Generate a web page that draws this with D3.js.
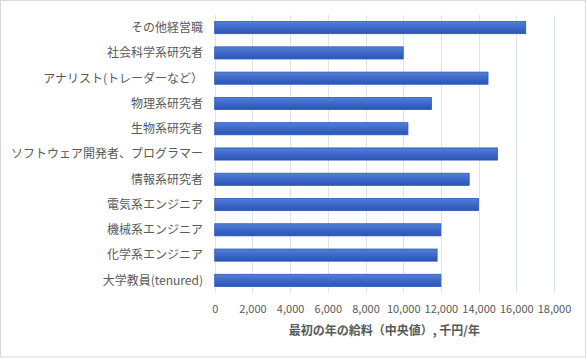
<!DOCTYPE html>
<html><head><meta charset="utf-8">
<script src="https://cdn.jsdelivr.net/npm/d3@7"></script>
<style>
html,body{margin:0;padding:0;background:#fff;}
svg{display:block;}
text{font-family:"Noto Sans CJK JP","Noto Sans",sans-serif;}
</style></head>
<body><svg id="c" width="586" height="358"></svg>
<script>
const categories = ["その他経営職","社会科学系研究者","アナリスト(トレーダーなど）","物理系研究者","生物系研究者","ソフトウェア開発者、プログラマー","情報系研究者","電気系エンジニア","機械系エンジニア","化学系エンジニア","大学教員(tenured)"];
const values = [16500,10000,14500,11500,10250,15000,13500,14000,12000,11800,12000];
const tickValues = [0,2000,4000,6000,8000,10000,12000,14000,16000,18000];
const xTitle = "最初の年の給料（中央値）, 千円/年";

(function(){
const svg = d3.select("#c");
svg.append("rect").attr("x",0.5).attr("y",0.5).attr("width",585).attr("height",356.5)
  .attr("fill","#fff").attr("stroke","#d9d9d9");

const defs = svg.append("defs");
const g = defs.append("linearGradient").attr("id","bg").attr("x1",0).attr("y1",0).attr("x2",0).attr("y2",1);
g.append("stop").attr("offset","0%").attr("stop-color","#5281d6");
g.append("stop").attr("offset","50%").attr("stop-color","#3d68c8");
g.append("stop").attr("offset","100%").attr("stop-color","#2a55b6");

const pL = 214.7, pR = 554, pT = 15, pB = 293;
const x = d3.scaleLinear().domain([0,18000]).range([pL,pR]);
const y = d3.scaleBand().domain(categories).range([pT,pB]).paddingInner(0.52).paddingOuter(0.26);

// grid
svg.append("g").selectAll("line").data(tickValues).join("line")
  .attr("x1",d=>Math.round(x(d))+0.5).attr("x2",d=>Math.round(x(d))+0.5)
  .attr("y1",pT).attr("y2",pB)
  .attr("stroke","#dfe3ea").attr("stroke-width",1);

// bars
svg.append("g").selectAll("rect").data(categories).join("rect")
  .attr("x",x(0)).attr("y",d=>y(d))
  .attr("width",(d,i)=>x(values[i])-x(0)).attr("height",y.bandwidth())
  .attr("fill","url(#bg)").attr("stroke","#2c58b8").attr("stroke-width",0.8);

// category labels
svg.append("g").selectAll("text").data(categories).join("text")
  .attr("x",203).attr("y",d=>y(d)+y.bandwidth()/2).attr("dy","0.36em")
  .attr("text-anchor","end").attr("font-size",12).attr("fill","#595959").text(d=>d);

// x axis labels
const ax = svg.append("g").attr("transform",`translate(0,${pB})`)
  .call(d3.axisBottom(x).tickValues(tickValues).tickSize(0).tickPadding(12).tickFormat(d3.format(",")));
ax.select(".domain").remove();
ax.selectAll("text").attr("font-size",11).attr("fill","#595959").attr("font-family","'Noto Sans',sans-serif");

svg.append("text").attr("x",(pL+pR)/2).attr("y",335).attr("text-anchor","middle")
  .attr("font-size",12).attr("font-weight","bold").attr("fill","#595959").text(xTitle);
})();
</script></body></html>
